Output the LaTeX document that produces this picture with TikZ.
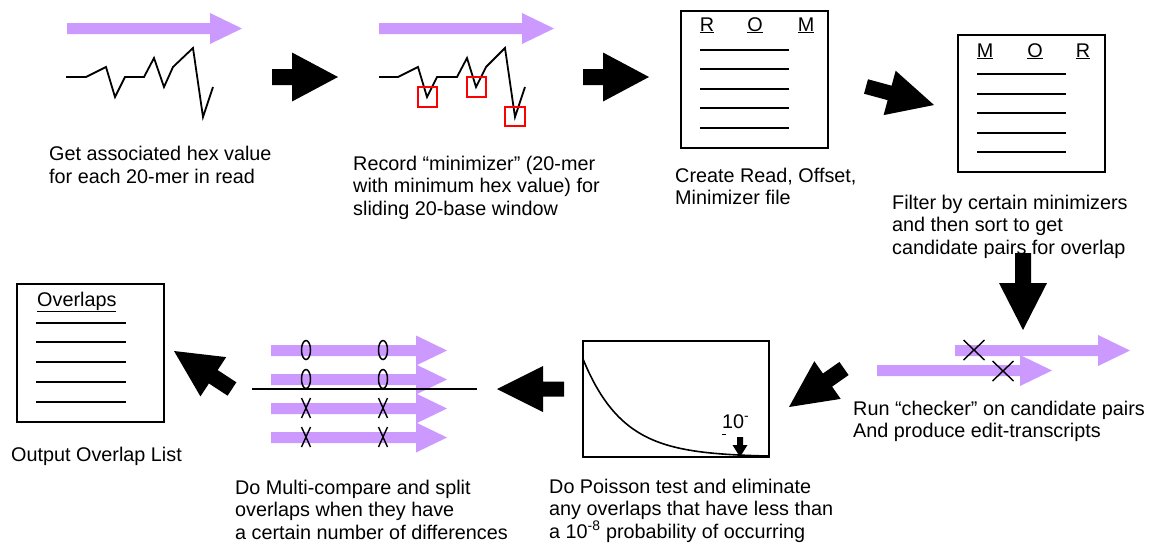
\documentclass[tikz,border=0pt]{standalone}
\usepackage{fontspec}
\setmainfont{Liberation Sans}
\usetikzlibrary{calc}
\definecolor{lav}{RGB}{204,153,255}
\newcommand\blockarrow[6][black]{% [colour] tail, tip, half shaft, half head, head length
  \coordinate (ba-h) at ($(#3)!#6!(#2)$);
  \fill[#1] ($(#2)!#4!90:(#3)$) -- ($(ba-h)!#4!90:(#3)$) -- ($(ba-h)!#5!90:(#3)$) -- (#3)
     -- ($(ba-h)!#5!-90:(#3)$) -- ($(ba-h)!#4!-90:(#3)$) -- ($(#2)!#4!-90:(#3)$) -- cycle;
}
\tikzset{
  lbl/.style={anchor=base west, align=left, inner sep=0pt, font=\fontsize{19.8}{22.5}\selectfont},
  hdr/.style={anchor=base, inner sep=0pt, font=\fontsize{19.8}{22.5}\selectfont},
  frame/.style={draw, line width=1.8pt},
  rule/.style={line width=1.6pt},
  zig/.style={line width=1.8pt, line join=miter},
  redbox/.style={draw=red, line width=1.5pt},
  cross/.style={line width=1.4pt},
}
\begin{document}
\begin{tikzpicture}[x=1pt,y=-1pt]
\path[use as bounding box, fill=white] (0,0) rectangle (1161,544);

% ---------- step 1: hex values ----------
\coordinate (p1s) at (67,28.5); \coordinate (p1e) at (242,28.5);
\blockarrow[lav]{p1s}{p1e}{5.5pt}{15.5pt}{32pt}
\draw[zig] (66,77) -- (86,77) -- (106,67) -- (115,97) -- (125,77) -- (144,77) -- (154,58)
  -- (164,87) -- (173,67) -- (193,48) -- (203,117) -- (213,87);
% multi-line labels: anchor is the baseline of the last line
\node[lbl] (t1) at (49,183) {Get associated hex value\\for each 20-mer in read};

% ---------- step 2: minimizers ----------
\coordinate (p2s) at (379,28.5); \coordinate (p2e) at (554,28.5);
\blockarrow[lav]{p2s}{p2e}{5.5pt}{15.5pt}{32pt}
\draw[zig] (379,77) -- (398,77) -- (418,67) -- (427,97) -- (437,77) -- (457,77) -- (467,58)
  -- (476,87) -- (486,67) -- (505,48) -- (515,117) -- (525,87);
\draw[redbox] (418,87) rectangle (437,107);
\draw[redbox] (467,77) rectangle (486,97);
\draw[redbox] (505,107) rectangle (525,126);
\node[lbl] (t2) at (353,215) {Record “minimizer” (20-mer\\with minimum hex value) for\\sliding 20-base window};

% ---------- step 3: ROM file ----------
\node[frame, minimum width=147pt, minimum height=137pt, inner sep=0pt] (rom) at (754.5,79.5) {};
\node[hdr] at (707,31) {\underline{R}};
\node[hdr] at (755,31) {\underline{O}};
\node[hdr] at (806,31) {\underline{M}};
\foreach \y in {50,69,89,108,128} \draw[rule] (700,\y) -- (789,\y);
\node[lbl] (t3) at (675,204.5) {Create Read, Offset,\\Minimizer file};

% ---------- step 4: MOR file ----------
\node[frame, minimum width=147pt, minimum height=137pt, inner sep=0pt] (mor) at (1031.5,103.5) {};
\node[hdr] at (985,57) {\underline{M}};
\node[hdr] at (1035,57) {\underline{O}};
\node[hdr] at (1083,57) {\underline{R}};
\foreach \y in {74,94,113,133,152} \draw[rule] (977,\y) -- (1066,\y);
\node[lbl] (t4) at (892,254) {Filter by certain minimizers\\and then sort to get\\candidate pairs for overlap};

% ---------- step 5: checker ----------
\coordinate (c1s) at (955,350.5); \coordinate (c1e) at (1130,350.5);
\coordinate (c2s) at (877,370.5); \coordinate (c2e) at (1052,370.5);
\blockarrow[lav]{c1s}{c1e}{5.5pt}{15.5pt}{32pt}
\blockarrow[lav]{c2s}{c2e}{5.5pt}{15.5pt}{32pt}
\foreach \cx/\cy in {974/350,1003/371}
  \draw[cross] (\cx-10.5,\cy-10) -- (\cx+10.5,\cy+10) (\cx-10.5,\cy+10) -- (\cx+10.5,\cy-10);
\node[lbl] (t5) at (853,437.5) {Run “checker” on candidate pairs\\And produce edit-transcripts};

% ---------- step 6: Poisson ----------
\node[frame, minimum width=186pt, minimum height=116pt, inner sep=0pt] (poi) at (676,399) {};
\draw[line width=1.6pt] plot[domain=0:186, samples=80] ({583+\x},{457-98*exp(-\x/40)});
\node[anchor=base west, inner sep=0pt, font=\fontsize{19.8}{22.5}\selectfont] (lim) at (722,428) {10\textsuperscript{-}};
\draw[line width=1pt] (722,434.5) -- (726,434.5);
\coordinate (sa) at (740,437); \coordinate (sb) at (740,457);
\blockarrow{sa}{sb}{3pt}{7.5pt}{12pt}
\node[lbl] (t6) at (549,538) {Do Poisson test and eliminate\\any overlaps that have less than\\a 10\textsuperscript{-8} probability of occurring};

% ---------- step 7: multi-compare ----------
\foreach \i/\y in {1/350.5,2/379.5,3/408.5,4/437.5}{
  \coordinate (m\i s) at (271,\y); \coordinate (m\i e) at (447,\y);
  \blockarrow[lav]{m\i s}{m\i e}{5.5pt}{15pt}{31pt}
}
\draw[line width=1.5pt] (252,389) -- (477,389);
\foreach \ox in {306,383}{
  \draw[line width=1.5pt] (\ox,350) ellipse [x radius=4.5, y radius=9.5];
  \draw[line width=1.5pt] (\ox,379) ellipse [x radius=4.5, y radius=9.5];
  \foreach \oy in {408,437}
    \draw[cross] (\ox-4.5,\oy-10) -- (\ox+4.5,\oy+10) (\ox-4.5,\oy+10) -- (\ox+4.5,\oy-10);
}
\node[lbl] (t7) at (235,539) {Do Multi-compare and split\\overlaps when they have\\a certain number of differences};

% ---------- step 8: overlap list ----------
\node[frame, minimum width=147pt, minimum height=138pt, inner sep=0pt] (ovl) at (90.5,353) {};
\node[anchor=base west, inner sep=0pt, font=\fontsize{19.8}{22.5}\selectfont] at (37,306) {\underline{Overlaps}};
\foreach \y in {323,342,362,382,402} \draw[rule] (36,\y) -- (126,\y);
\node[lbl] (t8) at (11,461) {Output Overlap List};

% ---------- black block arrows between steps ----------
\coordinate (a1s) at (272,77);    \coordinate (a1e) at (338,77);
\coordinate (a2s) at (583,77);    \coordinate (a2e) at (649,77);
\coordinate (a3s) at (866,86.5);  \coordinate (a3e) at (934,105);
\coordinate (a4s) at (1023,253);  \coordinate (a4e) at (1023,330);
\coordinate (a5s) at (844,368.5); \coordinate (a5e) at (789,407);
\coordinate (a6s) at (564,389);   \coordinate (a6e) at (497,389);
\coordinate (a7s) at (232,389);   \coordinate (a7e) at (174,351);
\blockarrow{a1s}{a1e}{8pt}{24.5pt}{46pt}
\blockarrow{a2s}{a2e}{8pt}{24.5pt}{46pt}
\blockarrow{a3s}{a3e}{7.5pt}{23pt}{46pt}
\blockarrow{a4s}{a4e}{8pt}{24pt}{47pt}
\blockarrow{a5s}{a5e}{8pt}{23pt}{47pt}
\blockarrow{a6s}{a6e}{7.5pt}{23pt}{46pt}
\blockarrow{a7s}{a7e}{8pt}{23.5pt}{47pt}
\end{tikzpicture}
\end{document}
